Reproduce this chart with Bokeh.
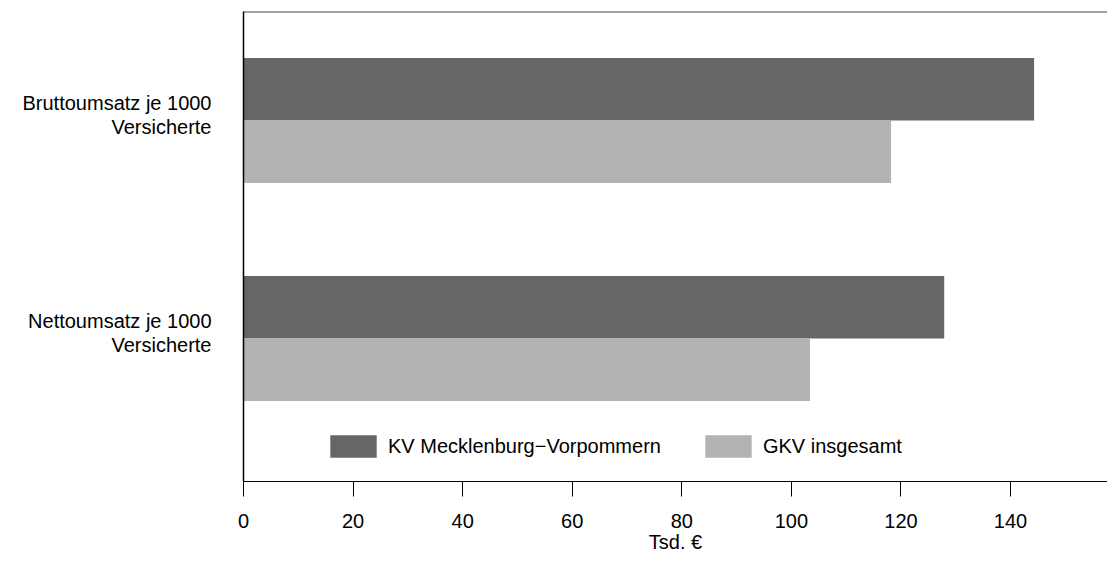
from bokeh.plotting import figure
from bokeh.models import FixedTicker, Legend, LegendItem, Span, ColumnDataSource, Range1d
from bokeh.embed import file_html
from bokeh.resources import INLINE

# ---- data ----
categories = ["Bruttoumsatz je 1000\nVersicherte", "Nettoumsatz je 1000\nVersicherte"]
series_names = ["KV Mecklenburg\u2212Vorpommern", "GKV insgesamt"]
kv_values = [144.3, 127.9]
gkv_values = [118.2, 103.4]
x_ticks = [0, 20, 40, 60, 80, 100, 120, 140]
colors = ["#666666", "#b3b3b3"]

FONT = "Liberation Sans"
FS = "20px"

n = len(categories)
centers = [n - i for i in range(n)]          # Brutto on top
bar_h = 0.287

src_kv = ColumnDataSource(dict(y=[c + bar_h / 2 for c in centers], right=kv_values))
src_gkv = ColumnDataSource(dict(y=[c - bar_h / 2 for c in centers], right=gkv_values))

p = figure(frame_width=864, frame_height=470,
           x_range=Range1d(0, 157.7), y_range=Range1d(0.344, 2.5),
           output_backend="svg", toolbar_location=None,
           min_border_left=243, min_border_right=0, min_border_top=11, min_border_bottom=73)

p.grid.visible = False
p.outline_line_color = None
p.background_fill_color = "white"
p.border_fill_color = "white"

r1 = p.hbar(y="y", right="right", left=0, height=bar_h, source=src_kv,
            fill_color=colors[0], line_color=None)
r2 = p.hbar(y="y", right="right", left=0, height=bar_h, source=src_gkv,
            fill_color=colors[1], line_color=None)

# x axis
xa = p.xaxis[0]
xa.ticker = FixedTicker(ticks=x_ticks)
xa.minor_tick_line_color = None
xa.major_tick_in = 0
xa.major_tick_out = 15
xa.major_tick_line_color = "black"
xa.axis_line_color = "black"
xa.major_label_text_font = FONT
xa.major_label_text_font_size = FS
xa.major_label_text_color = "black"
xa.major_label_standoff = 17
xa.axis_label = "Tsd. \u20ac"
xa.axis_label_text_font = FONT
xa.axis_label_text_font_size = FS
xa.axis_label_text_font_style = "normal"
xa.axis_label_text_color = "black"
xa.axis_label_standoff = 0

# y axis
ya = p.yaxis[0]
tick_pos = [c + 0.025 for c in centers]
ya.ticker = FixedTicker(ticks=tick_pos)
ya.major_label_overrides = {t: lab for t, lab in zip(tick_pos, categories)}
ya.minor_tick_line_color = None
ya.major_tick_line_color = None
ya.major_tick_in = 0
ya.major_tick_out = 0
ya.axis_line_color = "black"
ya.axis_line_width = 1.5
ya.major_label_text_font = FONT
ya.major_label_text_font_size = FS
ya.major_label_text_color = "black"
ya.major_label_text_line_height = 1.1
ya.major_label_standoff = 32

# top border
p.add_layout(Span(location=2.5, dimension="width", line_color="#444444", line_width=2))

legend = Legend(items=[LegendItem(label=series_names[0], renderers=[r1]),
                       LegendItem(label=series_names[1], renderers=[r2])],
                orientation="horizontal", location=(81, 21),
                glyph_width=58, glyph_height=28, label_standoff=6, spacing=38,
                padding=0, margin=0, border_line_color=None, background_fill_alpha=0,
                label_text_font=FONT, label_text_font_size=FS, label_text_color="black")
p.add_layout(legend)

open("out.html", "w").write(file_html(p, INLINE))
